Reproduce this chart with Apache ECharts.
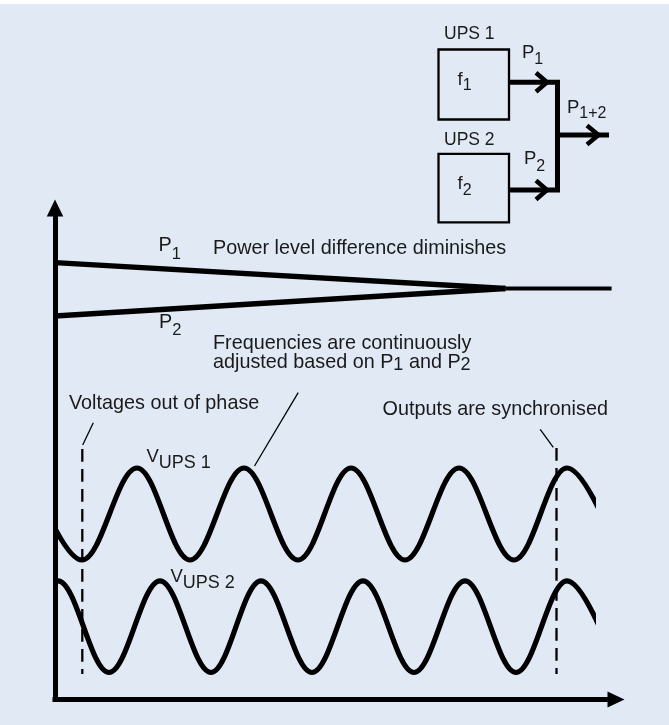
<!DOCTYPE html>
<html><head><meta charset="utf-8">
<script src="https://cdn.jsdelivr.net/npm/echarts@6/dist/echarts.min.js"></script>
<style>html,body{margin:0;padding:0;background:#fff}#c{width:669px;height:725px}</style>
</head><body><div id="c"></div>
<script>
// ---- data (x: time units, y: level units) ----
const P1_LEVEL = [[0, 436.8], [450.5, 411]];
const P2_LEVEL = [[0, 383.5], [450.5, 411]];
const P_COMBINED = [[450.5, 411], [556.6, 411]];
// extrema of the voltage waves (first/last lie outside the clipped window)
const V_UPS1 = [[-27, 231.5], [27, 139.5], [82, 231.5], [135, 139.5], [189, 231.5], [243, 139.5], [296, 231.5], [350, 139.5], [404, 231.5], [459, 139.5], [512, 231.5], [566, 139.5]];
const V_UPS2 = [[-49, 27], [3, 118.7], [54, 27], [105, 118.7], [156, 27], [206, 118.7], [257, 27], [308, 118.7], [359, 27], [410, 118.7], [461, 27], [512, 118.7], [563, 27]];
const MARK_OUT_OF_PHASE = [[27.3, 250.5], [27.3, 25.5]];
const MARK_SYNC = [[501.5, 251.5], [501.5, 25.5]];
const LEADER_PHASE = [[38.3, 276.8], [27.7, 254.5]];
const LEADER_SYNC = [[485.2, 270.2], [498.3, 252.2]];
const LEADER_FREQ = [[243.2, 306.8], [199.5, 233.5]];

const FONT = '"Liberation Sans", Arial, sans-serif';
const TXT = '#1a1a1a';
const BLACK = '#000';
const mctx = document.createElement('canvas').getContext('2d');
function tw(t, s) { mctx.font = s + 'px ' + FONT; return mctx.measureText(t).width; }
function seq(x, y, parts) {
  const out = []; let cx = x;
  parts.forEach(([t, s, dy]) => {
    out.push({ type: 'text', x: cx, y: y + dy, silent: true,
      style: { text: t, font: s + 'px ' + FONT, fill: TXT, align: 'left', verticalAlign: 'middle' } });
    cx += tw(t, s);
  });
  return out;
}
const F = 19.8;
const graphics = [
  { type: 'rect', shape: { x: 0, y: 0, width: 669, height: 4 }, style: { fill: '#fff' }, silent: true },
  ...seq(158.5, 246, [['P', F, 0], ['1', 16.5, 8]]),
  ...seq(159, 323, [['P', F, 0], ['2', 16.5, 7.5]]),
  ...seq(213, 249, [['Power level difference diminishes', F, 0]]),
  ...seq(213, 344, [['Frequencies are continuously', F, 0]]),
  ...seq(213, 362.5, [['adjusted based on P', F, 0], ['1', 18, 3], [' and P', F, 0], ['2', 18, 3]]),
  ...seq(69, 403.3, [['Voltages out of phase', F, 0]]),
  ...seq(382.5, 410, [['Outputs are synchronised', F, 0]]),
  ...seq(146.5, 457, [['V', 18.5, 0], ['UPS 1', 18, 6]]),
  ...seq(170.5, 576.5, [['V', 18.5, 0], ['UPS 2', 18, 7]]),
  ...seq(444, 34.5, [['UPS 1', 17.5, 0]]),
  ...seq(444, 140, [['UPS 2', 17.5, 0]]),
  ...seq(457.5, 80, [['f', 18.5, 0], ['1', 16, 6]]),
  ...seq(457.5, 183.5, [['f', 18.5, 0], ['2', 16, 7.5]]),
  ...seq(522, 52.7, [['P', 18.5, 0], ['1', 16, 6.5]]),
  ...seq(524, 159, [['P', 18.5, 0], ['2', 16, 7.5]]),
  ...seq(567, 108.3, [['P', 18.5, 0], ['1+2', 16, 5.5]]),
  { type: 'rect', shape: { x: 438.5, y: 49.5, width: 70.5, height: 70 }, style: { fill: 'none', stroke: BLACK, lineWidth: 2.3 }, silent: true },
  { type: 'rect', shape: { x: 438.5, y: 153.8, width: 70.5, height: 68.5 }, style: { fill: 'none', stroke: BLACK, lineWidth: 2.3 }, silent: true },
  { type: 'polyline', shape: { points: [[509.7, 82.2], [557.5, 82.2], [557.5, 190], [509.7, 190]] }, style: { fill: 'none', stroke: BLACK, lineWidth: 5, lineJoin: 'miter' }, silent: true },
  { type: 'polyline', shape: { points: [[557.5, 135], [609, 135]] }, style: { fill: 'none', stroke: BLACK, lineWidth: 5 }, silent: true },
  { type: 'polyline', shape: { points: [[536, 72.7], [547, 82.2], [536, 91.7]] }, style: { fill: 'none', stroke: BLACK, lineWidth: 4.5, lineJoin: 'miter' }, silent: true },
  { type: 'polyline', shape: { points: [[536, 180.5], [547, 190], [536, 199.5]] }, style: { fill: 'none', stroke: BLACK, lineWidth: 4.5, lineJoin: 'miter' }, silent: true },
  { type: 'polyline', shape: { points: [[587, 125.5], [598.5, 135], [587, 144.5]] }, style: { fill: 'none', stroke: BLACK, lineWidth: 4.5, lineJoin: 'miter' }, silent: true }
];

function lineSeries(data, width, opts) {
  return Object.assign({ type: 'line', data: data, showSymbol: false, symbol: 'none', silent: true,
    xAxisIndex: 0, yAxisIndex: 0, lineStyle: { color: BLACK, width: width }, z: 3 }, opts || {});
}
const hiddenAxis = { show: false };
const option = {
  animation: false,
  backgroundColor: '#e1e9f5',
  grid: [
    { left: 55, top: 208, width: 561, height: 491.5 },
    { left: 57.5, top: 208, width: 535.5, height: 491.5 }
  ],
  xAxis: [
    { gridIndex: 0, type: 'value', min: 0, max: 561,
      axisLine: { show: true, onZero: false, symbol: ['none', 'triangle'], symbolSize: [16, 17], lineStyle: { color: BLACK, width: 5, cap: 'square' } },
      axisTick: { show: false }, axisLabel: { show: false }, splitLine: { show: false } },
    Object.assign({ gridIndex: 1, type: 'value', min: 2.5, max: 538 }, hiddenAxis)
  ],
  yAxis: [
    { gridIndex: 0, type: 'value', min: 0, max: 491.5,
      axisLine: { show: true, onZero: false, symbol: ['none', 'triangle'], symbolSize: [16.5, 17], lineStyle: { color: BLACK, width: 5, cap: 'square' } },
      axisTick: { show: false }, axisLabel: { show: false }, splitLine: { show: false } },
    Object.assign({ gridIndex: 1, type: 'value', min: 0, max: 491.5 }, hiddenAxis)
  ],
  series: [
    lineSeries(P1_LEVEL, 5.3),
    lineSeries(P2_LEVEL, 5.3),
    lineSeries(P_COMBINED, 4),
    lineSeries(V_UPS1, 5.2, { xAxisIndex: 1, yAxisIndex: 1, smooth: 0.36, smoothMonotone: 'x' }),
    lineSeries(V_UPS2, 5.2, { xAxisIndex: 1, yAxisIndex: 1, smooth: 0.36, smoothMonotone: 'x' }),
    lineSeries(MARK_OUT_OF_PHASE, 2, { lineStyle: { color: BLACK, width: 2.3, type: [12.7, 7.3] } }),
    lineSeries(MARK_SYNC, 2, { lineStyle: { color: BLACK, width: 2.3, type: [12.7, 7.3] } }),
    lineSeries(LEADER_PHASE, 1.3),
    lineSeries(LEADER_SYNC, 1.3),
    lineSeries(LEADER_FREQ, 1.3)
  ],
  graphic: graphics
};
const chart = echarts.init(document.getElementById('c'), null, { renderer: 'canvas' });
chart.setOption(option);
</script></body></html>
